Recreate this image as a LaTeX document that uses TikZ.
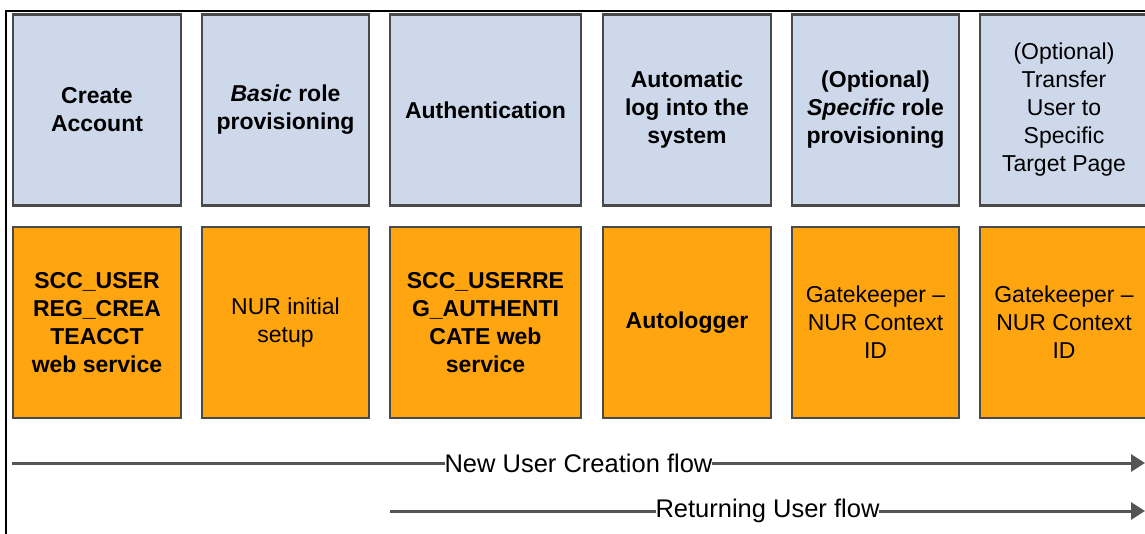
\documentclass[tikz,border=0pt]{standalone}
\usepackage{fontspec}
\setmainfont{Liberation Sans}
\usetikzlibrary{arrows.meta}
\definecolor{steplight}{HTML}{CDD9EA}
\definecolor{impl}{HTML}{FFA50F}
\definecolor{edgegrey}{HTML}{4A4A4A}
\definecolor{flowgrey}{HTML}{555555}

\begin{document}
\begin{tikzpicture}[x=1pt,y=-1pt,
  box/.style={draw=edgegrey,line width=2.8pt,minimum height=191pt,align=center,
    inner sep=0pt,font=\fontsize{23}{28}\selectfont},
  stepbox/.style={box,fill=steplight},
  implbox/.style={box,fill=impl},
  flow/.style={draw=flowgrey,line width=3pt,-{Triangle[length=14pt,width=17pt]}},
  flowlabel/.style={fill=white,inner xsep=0pt,inner ysep=2pt,font=\fontsize{25.5}{30}\selectfont}]
  \useasboundingbox (0,0) rectangle (1145,534);
  % outer frame (only top and left edge show)
  \draw[line width=1.4pt] (1160,11) -- (6,11) -- (6,550);
  % steps
  \node[stepbox,minimum width=168pt] (create) at (97,110) {\bfseries Create\\ \bfseries Account};
  \node[stepbox,minimum width=167pt] (basic) at (285.5,110) {\bfseries\itshape Basic\upshape{} role\\ \bfseries provisioning};
  \node[stepbox,minimum width=191pt] (auth) at (485.5,110) {\bfseries Authentication};
  \node[stepbox,minimum width=168pt] (autolog) at (687,110) {\bfseries Automatic\\ \bfseries log into the\\ \bfseries system};
  \node[stepbox,minimum width=167pt] (specific) at (875.5,110) {\bfseries (Optional)\\ \bfseries\itshape Specific\upshape{} role\\ \bfseries provisioning};
  \node[stepbox,minimum width=168pt] (transfer) at (1064,110) {(Optional)\\ Transfer\\ User to\\ Specific\\ Target Page};
  % implementation
  \node[implbox,minimum width=168pt] (createws) at (97,322.5) {\bfseries SCC\_USER\\ \bfseries REG\_CREA\\ \bfseries TEACCT\\ \bfseries web service};
  \node[implbox,minimum width=167pt] (nursetup) at (285.5,322.5) {NUR initial\\ setup};
  \node[implbox,minimum width=191pt] (authws) at (485.5,322.5) {\bfseries SCC\_USERRE\\ \bfseries G\_AUTHENTI\\ \bfseries CATE web\\ \bfseries service};
  \node[implbox,minimum width=168pt] (autologger) at (687,322.5) {\bfseries Autologger};
  \node[implbox,minimum width=167pt] (gatekeep) at (875.5,322.5) {Gatekeeper --\\ NUR Context\\ ID};
  \node[implbox,minimum width=168pt] (gatekeeptwo) at (1064,322.5) {Gatekeeper --\\ NUR Context\\ ID};
  % flows
  \coordinate (newstart) at (12,463);
  \coordinate (newend) at (1145,463);
  \coordinate (retstart) at (390,511);
  \coordinate (retend) at (1145,511);
  \draw[flow] (newstart) -- node[flowlabel] (newlabel) {New User Creation flow} (newend);
  \draw[flow] (retstart) -- node[flowlabel] (retlabel) {Returning User flow} (retend);
\end{tikzpicture}
\end{document}
